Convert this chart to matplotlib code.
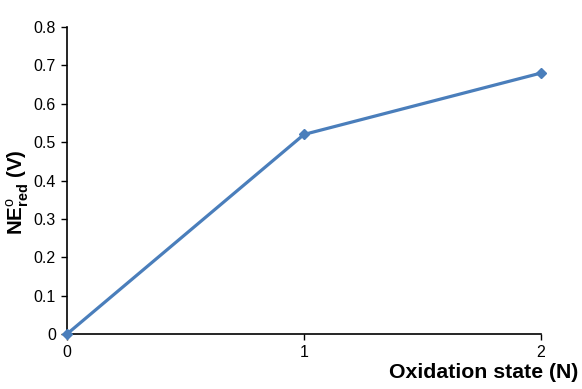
import matplotlib
matplotlib.use('Agg')
import matplotlib.pyplot as plt

oxidation_state = [0, 1, 2]
ne_red = [0.0, 0.52, 0.68]
y_ticks = [0, 0.1, 0.2, 0.3, 0.4, 0.5, 0.6, 0.7, 0.8]
y_tick_labels = ['0', '0.1', '0.2', '0.3', '0.4', '0.5', '0.6', '0.7', '0.8']

plt.rcParams['font.family'] = ['Liberation Sans', 'DejaVu Sans']
plt.rcParams['mathtext.fontset'] = 'custom'
plt.rcParams['mathtext.rm'] = 'Liberation Sans'
plt.rcParams['mathtext.bf'] = 'Liberation Sans:bold'

fig = plt.figure(figsize=(5.82, 3.89), dpi=100, facecolor='white')
ax = fig.add_axes([67 / 582, 1 - 334 / 389, (541 - 67) / 582, (334 - 27) / 389])

ax.plot(oxidation_state, ne_red, color='#4A7EBB', linewidth=2.3,
        marker='D', markersize=5, markerfacecolor='#4A7EBB',
        markeredgecolor='#4A7EBB', clip_on=False, zorder=3)

ax.set_xlim(0, 2)
ax.set_ylim(0, 0.8)
ax.set_xticks(oxidation_state)
ax.set_yticks(y_ticks)
ax.set_yticklabels(y_tick_labels)
ax.tick_params(axis='both', direction='out', length=4, width=1, labelsize=11.5,
               colors='black', pad=4)
for side in ('top', 'right'):
    ax.spines[side].set_visible(False)
for side in ('left', 'bottom'):
    ax.spines[side].set_linewidth(1.2)

# axis titles placed like the Excel original
fig.text(18 / 582, 1 - 192 / 389, r'NE$^{\mathrm{o}}_{\mathbf{red}}$ (V)',
         fontsize=14.8, fontweight='bold', rotation=90, ha='center', va='center')
fig.text(578 / 582, 1 - 373 / 389, 'Oxidation state (N)', fontsize=15.3,
         fontweight='bold', ha='right', va='center')

fig.savefig('out.png', dpi=100, facecolor='white')
